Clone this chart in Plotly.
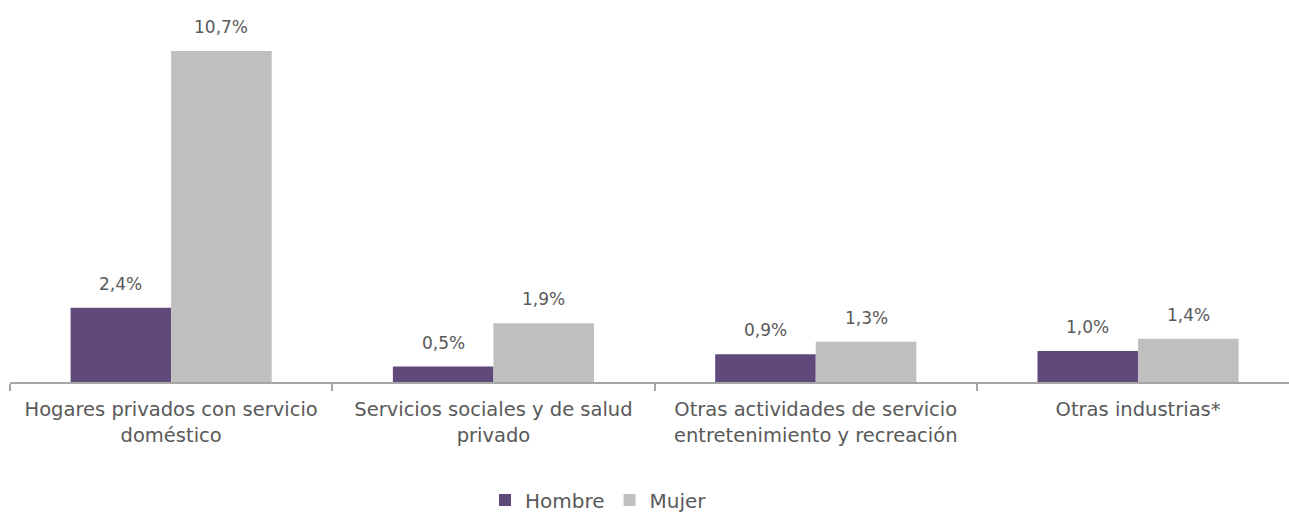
import plotly.graph_objects as go

categories = [
    "Hogares privados con servicio<br>doméstico",
    "Servicios sociales y de salud<br>privado",
    "Otras actividades de servicio<br>entretenimiento y recreación",
    "Otras industrias*",
]
hombre = [2.4, 0.5, 0.9, 1.0]
mujer = [10.7, 1.9, 1.3, 1.4]
series_names = ["Hombre", "Mujer"]
colors = ["#604a7b", "#bfbfbf"]

def fmt(v):
    return f"{v:.1f}".replace(".", ",") + "%"

W, H = 1289, 513
ml, mr, mt, mb = 10, 0, 0, 131
plot_w = W - ml - mr
plot_h = H - mt - mb
unit_px = 322.3          # pixels per category
px_per_pct = 30.93       # pixels per percentage point
font_family = "'DejaVu Sans', sans-serif"
text_color = "#595959"
bargap = 0.376

fig = go.Figure()
for name, vals, col in zip(series_names, [hombre, mujer], colors):
    fig.add_trace(go.Bar(
        x=categories, y=vals, name=name,
        marker=dict(color=col, line=dict(width=0)),
        offsetgroup=name,
    ))

# value labels
bar_w = (1 - bargap) / 2
for i, vals in enumerate([hombre, mujer]):
    for j, v in enumerate(vals):
        xpos = j - bar_w / 2 if i == 0 else j + bar_w / 2
        fig.add_annotation(
            x=xpos, y=v, text=fmt(v), showarrow=False,
            yanchor="bottom", yshift=12,
            font=dict(family=font_family, size=17, color=text_color),
        )

fig.update_layout(
    width=W, height=H,
    margin=dict(l=ml, r=mr, t=mt, b=mb),
    paper_bgcolor="white", plot_bgcolor="white",
    barmode="group", bargap=bargap, bargroupgap=0,
    showlegend=True,
    legend=dict(
        orientation="h", xref="container", x=485 / W, xanchor="left",
        yref="container", y=(H - 500) / H, yanchor="middle",
        font=dict(family=font_family, size=20, color=text_color),
        itemwidth=30, traceorder="normal",
    ),
    xaxis=dict(
        type="category",
        range=[-0.5, -0.5 + plot_w / unit_px],
        showline=True, linecolor="#a6a6a6", linewidth=1.5,
        ticks="outside", tickson="boundaries", ticklen=7, tickcolor="#a6a6a6",
        tickwidth=1.5,
        ticklabelstandoff=9,
        showgrid=False, zeroline=False,
        tickfont=dict(family=font_family, size=19.5, color=text_color),
    ),
    yaxis=dict(
        range=[0, plot_h / px_per_pct], visible=False, showgrid=False, zeroline=False,
    ),
)

fig.write_html(
    "out.html",
    config={"displayModeBar": False},
    post_script="document.body.style.margin='0';",
)
